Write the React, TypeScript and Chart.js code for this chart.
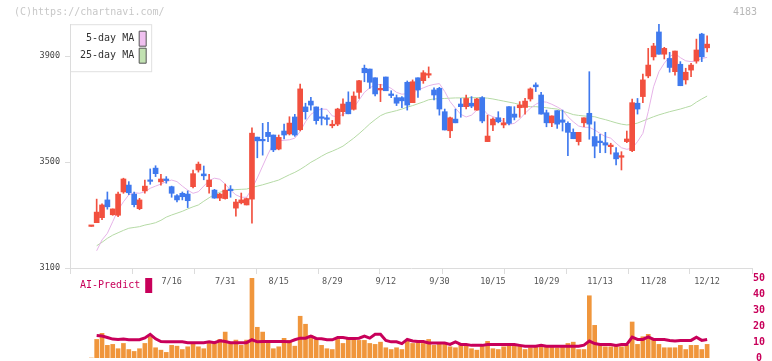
import React, { useEffect, useRef } from "react";
import { Chart, registerables } from "chart.js";

Chart.register(...registerables);

const MONO = '"DejaVu Sans Mono", "Liberation Mono", monospace';

// ---- data ----
const opens = [3257,3271,3290,3357,3301,3299,3387,3413,3379,3324,3391,3432,3477,3425,3436,3407,3373,3382,3379,3407,3470,3455,3407,3394,3364,3362,3394,3326,3346,3338,3360,3594,3583,3612,3602,3549,3617,3606,3670,3622,3708,3730,3708,3670,3667,3637,3643,3690,3726,3699,3763,3854,3851,3818,3772,3821,3757,3743,3743,3801,3724,3818,3807,3828,3772,3778,3690,3618,3662,3719,3709,3722,3696,3743,3577,3640,3667,3640,3709,3681,3705,3706,3738,3791,3753,3686,3648,3694,3659,3646,3612,3577,3648,3684,3596,3579,3573,3558,3535,3518,3577,3543,3722,3747,3825,3897,3991,3907,3891,3841,3869,3810,3847,3881,3983,3931];
const highs = [3257,3360,3342,3387,3323,3387,3439,3426,3387,3363,3432,3474,3486,3454,3445,3409,3377,3387,3391,3470,3500,3485,3454,3397,3382,3417,3411,3359,3383,3364,3629,3594,3646,3650,3602,3602,3643,3671,3680,3794,3722,3744,3708,3703,3677,3657,3703,3739,3765,3765,3808,3866,3851,3818,3793,3821,3769,3753,3747,3806,3810,3818,3845,3859,3780,3782,3700,3670,3700,3740,3753,3747,3740,3747,3677,3667,3690,3665,3709,3709,3728,3740,3780,3799,3763,3696,3674,3694,3696,3652,3625,3612,3667,3841,3652,3605,3612,3571,3555,3539,3617,3738,3740,3832,3929,3948,4021,3933,3914,3919,3879,3854,3873,3964,3986,3976];
const lows = [3257,3271,3282,3322,3299,3294,3382,3377,3331,3320,3382,3416,3445,3413,3420,3367,3349,3357,3328,3402,3462,3433,3382,3363,3354,3360,3367,3296,3342,3338,3269,3516,3526,3577,3539,3546,3587,3602,3597,3617,3662,3696,3643,3640,3640,3629,3637,3674,3682,3696,3740,3803,3778,3750,3728,3769,3743,3713,3705,3696,3724,3744,3797,3818,3734,3677,3621,3592,3648,3669,3700,3705,3696,3648,3577,3618,3648,3629,3640,3659,3669,3681,3730,3766,3681,3633,3633,3627,3617,3524,3588,3564,3633,3586,3516,3535,3535,3530,3489,3470,3573,3539,3681,3724,3818,3885,3907,3889,3839,3828,3788,3794,3822,3873,3879,3916];
const closes = [3257,3311,3338,3331,3323,3379,3436,3384,3339,3357,3409,3427,3456,3436,3430,3382,3357,3369,3354,3456,3492,3448,3432,3364,3379,3394,3392,3349,3357,3362,3609,3580,3580,3596,3546,3593,3602,3647,3602,3776,3690,3715,3656,3665,3661,3641,3700,3719,3682,3749,3807,3837,3801,3757,3778,3769,3751,3722,3731,3715,3803,3772,3837,3832,3753,3700,3621,3667,3648,3709,3740,3711,3738,3655,3598,3662,3652,3648,3646,3669,3715,3730,3776,3784,3681,3648,3674,3643,3650,3612,3588,3612,3667,3643,3560,3573,3564,3564,3512,3524,3587,3724,3700,3810,3866,3938,3907,3929,3857,3919,3788,3839,3866,3923,3897,3945];
const ma5 = [null,3165,3206,3231,3275,3319,3350,3376,3384,3382,3388,3401,3409,3417,3426,3432,3426,3409,3394,3382,3388,3409,3430,3439,3435,3417,3394,3376,3367,3367,3400,3440,3485,3530,3570,3580,3582,3584,3590,3615,3652,3680,3693,3700,3699,3674,3671,3680,3693,3705,3734,3763,3780,3791,3793,3788,3778,3763,3756,3758,3763,3772,3780,3788,3793,3796,3766,3728,3703,3680,3670,3677,3696,3703,3680,3671,3665,3652,3642,3646,3662,3684,3703,3718,3728,3726,3718,3708,3696,3671,3652,3636,3631,3631,3621,3608,3596,3590,3571,3554,3548,3552,3577,3608,3690,3784,3841,3873,3898,3910,3894,3882,3879,3882,3891,3895];
const ma25 = [null,3184,3197,3212,3224,3233,3242,3250,3253,3256,3262,3266,3271,3280,3292,3300,3307,3314,3323,3331,3338,3352,3365,3378,3386,3391,3394,3396,3397,3398,3404,3409,3414,3420,3426,3432,3442,3452,3461,3472,3485,3499,3510,3522,3533,3541,3550,3560,3575,3590,3607,3625,3644,3660,3675,3684,3689,3694,3700,3707,3713,3720,3727,3735,3738,3739,3740,3741,3742,3742,3743,3743,3743,3743,3741,3738,3734,3730,3726,3722,3717,3711,3709,3709,3707,3705,3702,3700,3692,3686,3679,3676,3674,3672,3671,3665,3660,3654,3648,3643,3640,3642,3647,3655,3663,3671,3678,3684,3690,3695,3700,3706,3712,3726,3738,3749];
const volume = [0,11.6,15.4,7.9,8.5,5.8,9.1,5.3,4.1,5.8,9.1,13.3,6.4,4.9,3.5,7.9,7.4,5.3,7.0,9.6,7.0,5.8,9.9,9.1,11.6,16.2,9.1,11.2,7.9,11.2,50.0,19.2,16.2,9.6,5.8,7.0,12.3,11.0,7.4,26.1,21.1,14.2,11.6,7.9,5.8,5.3,11.6,9.1,12.1,11.6,11.0,11.0,9.1,8.5,9.9,6.4,5.3,6.4,5.3,11.0,9.1,9.6,9.1,11.6,7.9,9.1,9.1,7.0,6.4,8.5,7.9,5.8,4.9,7.9,10.4,5.8,5.3,7.0,7.9,7.9,7.9,5.3,6.4,7.0,7.9,7.0,7.0,6.4,7.0,9.1,9.9,5.3,5.3,38.9,20.4,7.9,7.0,7.0,7.9,7.0,7.9,22.5,8.5,13.3,14.8,11.6,8.5,6.4,6.4,6.4,7.9,5.3,7.9,7.9,5.3,8.5];
const aiPredict = [null,14.0,13.7,12.8,11.8,11.6,11.8,11.4,11.4,11.4,12.5,14.8,12.0,10.3,10.1,10.1,10.1,10.1,9.6,9.6,9.6,9.6,10.1,9.6,10.8,10.3,9.6,9.6,9.6,9.6,11.4,10.1,10.3,10.3,10.3,10.3,10.3,10.1,11.4,12.4,12.4,13.7,12.2,12.0,11.4,11.4,12.8,12.8,12.2,12.2,12.4,13.7,12.4,14.8,14.8,11.0,10.1,10.1,9.0,11.6,10.6,10.3,10.3,9.4,9.4,9.4,9.4,8.5,10.1,8.5,8.5,7.9,7.9,7.9,8.5,8.5,8.5,8.5,8.5,8.5,7.9,7.3,7.3,7.3,7.9,7.3,7.3,7.3,7.3,7.3,7.3,7.3,8.0,10.6,9.0,8.5,8.5,8.5,7.9,8.5,8.5,13.0,11.6,11.6,13.2,11.6,11.6,11.6,11.0,10.6,11.0,11.0,11.0,13.0,11.0,11.6];

const dateLabels = ["7/16","7/31","8/15","8/29","9/12","9/30","10/15","10/29","11/13","11/28","12/12"];
const dateLabelIndex = [15,25,35,45,55,65,75,85,95,105,115];
const priceTicks = [3100,3500,3900];
const aiTicks = [0,10,20,30,40,50];
const PRICE_MIN = 3100;
const COPYRIGHT = "(C)https://chartnavi.com/";
const CODE = "4183";

// ---- styling ----
const X_MIN = -3.98;
const X_MAX = 123.38;
const GRID_DIVS = 11;
const UP = "#f2503f";
const DOWN = "#3f79ee";
const AXIS = "#dcdcdc";
const AI_COLOR = "#c8005a";

const labelMap = new Map<number, string>();
dateLabelIndex.forEach((v, i) => labelMap.set(v, dateLabels[i]));
const gridTicks = Array.from({ length: GRID_DIVS + 1 }, (_, k) => X_MIN + (k * (X_MAX - X_MIN)) / GRID_DIVS);

const watermark = {
  id: "watermark",
  afterDraw(chart: any) {
    const ctx = chart.ctx;
    ctx.save();
    ctx.font = `10px ${MONO}`;
    ctx.textBaseline = "middle";
    ctx.textAlign = "left";
    ctx.fillStyle = "#c8c8c8";
    ctx.fillText(COPYRIGHT, 14, 12);
    ctx.textAlign = "right";
    ctx.fillStyle = "#b8b8b8";
    ctx.fillText(CODE, 757, 12);
    ctx.restore();
  },
};

const legendFrame = {
  id: "legendFrame",
  beforeDraw(chart: any) {
    const lg = chart.legend;
    if (!lg || !lg.legendHitBoxes || !lg.legendHitBoxes.length) return;
    const hb = lg.legendHitBoxes;
    const left = chart.chartArea.left;
    const topY = Math.min(...hb.map((h: any) => h.top)) - 7;
    const right = Math.max(...hb.map((h: any) => h.left + h.width)) + 5;
    const bottom = Math.max(...hb.map((h: any) => h.top + h.height)) + 8;
    const ctx = chart.ctx;
    ctx.save();
    ctx.fillStyle = "#ffffff";
    ctx.fillRect(left, topY, right - left, bottom - topY);
    ctx.strokeStyle = "#e0e0e0";
    ctx.lineWidth = 1;
    ctx.strokeRect(left + 0.5, topY + 0.5, right - left, bottom - topY);
    ctx.restore();
  },
};

function sharedX(display: boolean): any {
  const axis: any = {
    type: "linear",
    min: X_MIN,
    max: X_MAX,
    offset: false,
    display,
    afterBuildTicks: (scale: any) => {
      const vals = [...gridTicks, ...dateLabelIndex].sort((a, b) => a - b);
      scale.ticks = vals.map((v) => ({ value: v }));
    },
    grid: {
      display: true,
      offset: false,
      drawOnChartArea: false,
      drawTicks: true,
      tickLength: 6,
      tickWidth: 1,
      tickColor: (ctx: any) => (labelMap.has(ctx.tick?.value) ? "rgba(0,0,0,0)" : AXIS),
    },
    border: { display: true, color: AXIS, width: 1 },
    ticks: {
      autoSkip: false,
      maxRotation: 0,
      minRotation: 0,
      padding: 3,
      color: "#555",
      font: { family: MONO, size: 8.5 },
      callback: (v: any) => labelMap.get(v) ?? "",
    },
  };
  if (display) {
    axis.afterFit = (scale: any) => {
      scale.height = 32;
    };
  }
  return axis;
}

export default function App() {
  const topRef = useRef<HTMLCanvasElement>(null);
  const botRef = useRef<HTMLCanvasElement>(null);

  useEffect(() => {
    const colors = closes.map((c, i) => (c >= opens[i] ? UP : DOWN));
    const priceMax = Math.max(...highs);

    const top = new Chart(topRef.current as HTMLCanvasElement, {
      type: "bar",
      data: {
        datasets: [
          {
            type: "bar",
            label: "body",
            data: opens.map((o, i) => ({ x: i, y: [o, closes[i]] })) as any,
            backgroundColor: colors,
            barThickness: 5,
            minBarLength: 1.5,
            grouped: false,
            borderWidth: 0,
            order: 1,
          } as any,
          {
            type: "bar",
            label: "wick",
            data: lows.map((l, i) => ({ x: i, y: [l, highs[i]] })) as any,
            backgroundColor: colors,
            barThickness: 1,
            grouped: false,
            borderWidth: 0,
            order: 2,
          } as any,
          {
            type: "line",
            label: "5-day MA",
            data: ma5.map((v, i) => ({ x: i, y: v })) as any,
            borderColor: "#e6b3e8",
            backgroundColor: "#f0c0f0",
            borderWidth: 1,
            pointRadius: 0,
            tension: 0,
            order: 3,
          } as any,
          {
            type: "line",
            label: "25-day MA",
            data: ma25.map((v, i) => ({ x: i, y: v })) as any,
            borderColor: "#b5daa5",
            backgroundColor: "#c2e2b2",
            borderWidth: 1,
            pointRadius: 0,
            tension: 0,
            order: 4,
          } as any,
        ],
      },
      options: {
        responsive: false,
        animation: false,
        events: [],
        layout: { padding: { top: 24, right: 20, left: 0, bottom: 0 } },
        scales: {
          x: sharedX(true),
          y: {
            type: "linear",
            min: PRICE_MIN,
            max: priceMax,
            afterBuildTicks: (scale: any) => {
              scale.ticks = priceTicks.map((v) => ({ value: v }));
            },
            afterFit: (scale: any) => {
              scale.width = 70;
            },
            grid: { drawOnChartArea: false, tickLength: 5, tickColor: AXIS },
            border: { display: true, color: AXIS, width: 1 },
            ticks: {
              padding: 5,
              color: "#444",
              font: { family: MONO, size: 8.5 },
              callback: (v: any) => String(v),
            },
          },
        },
        plugins: {
          tooltip: { enabled: false },
          title: { display: false },
          legend: {
            position: "chartArea" as any,
            align: "start",
            rtl: true,
            title: { display: true, text: "", font: { size: 1 }, padding: { top: 0, bottom: 28 } },
            labels: {
              font: { family: MONO, size: 10 },
              color: "#333",
              boxWidth: 7,
              boxHeight: 15,
              padding: 2,
              generateLabels: (chart: any) =>
                chart.data.datasets
                  .map((ds: any, i: number) => ({ ds, i }))
                  .filter(({ ds }: any) => ds.type === "line")
                  .map(({ ds, i }: any) => ({
                    text: ds.label,
                    fillStyle: ds.backgroundColor,
                    strokeStyle: "#555",
                    lineWidth: 1,
                    hidden: false,
                    datasetIndex: i,
                    fontColor: "#333",
                  })),
            },
          },
        },
      },
      plugins: [legendFrame, watermark],
    } as any);

    const bot = new Chart(botRef.current as HTMLCanvasElement, {
      type: "bar",
      data: {
        datasets: [
          {
            type: "line",
            label: "AI-Predict",
            data: aiPredict.map((v, i) => ({ x: i, y: v })) as any,
            borderColor: AI_COLOR,
            backgroundColor: AI_COLOR,
            borderWidth: 3,
            pointRadius: 0,
            tension: 0,
            order: 0,
          } as any,
          {
            type: "bar",
            label: "Volume",
            data: volume.map((v, i) => ({ x: i, y: v })) as any,
            backgroundColor: "#f0963c",
            barThickness: 4,
            grouped: false,
            borderWidth: 0,
            order: 1,
          } as any,
        ],
      },
      options: {
        responsive: false,
        animation: false,
        events: [],
        layout: { padding: { top: 10, right: 3, left: 70, bottom: 10 } },
        scales: {
          x: sharedX(false),
          y: {
            type: "linear",
            position: "right",
            min: 0,
            max: 50,
            afterBuildTicks: (scale: any) => {
              scale.ticks = aiTicks.map((v) => ({ value: v }));
            },
            afterFit: (scale: any) => {
              scale.width = 17;
            },
            grid: { display: false, drawTicks: false },
            border: { display: false },
            ticks: {
              autoSkip: false,
              padding: 1,
              crossAlign: "center",
              color: AI_COLOR,
              font: { family: MONO, size: 10, weight: "bold" },
              callback: (v: any) => String(v),
            },
          },
        },
        plugins: {
          tooltip: { enabled: false },
          legend: {
            position: "chartArea" as any,
            align: "start",
            rtl: true,
            title: { display: true, text: "", font: { size: 1 }, padding: { top: 0, bottom: 8.8 } },
            labels: {
              font: { family: MONO, size: 10 },
              color: AI_COLOR,
              boxWidth: 7,
              boxHeight: 15,
              padding: 0,
              generateLabels: (chart: any) =>
                chart.data.datasets
                  .map((ds: any, i: number) => ({ ds, i }))
                  .filter(({ ds }: any) => ds.type === "line")
                  .map(({ ds, i }: any) => ({
                    text: ds.label,
                    fillStyle: AI_COLOR,
                    strokeStyle: AI_COLOR,
                    lineWidth: 0,
                    hidden: false,
                    datasetIndex: i,
                    fontColor: AI_COLOR,
                  })),
            },
          },
        },
      },
    } as any);

    return () => {
      top.destroy();
      bot.destroy();
    };
  }, []);

  return (
    <div
      style={{
        position: "fixed",
        left: 0,
        top: 0,
        width: 772,
        height: 361,
        overflow: "hidden",
        background: "#ffffff",
      }}
    >
      <canvas ref={topRef} width={772} height={300} style={{ position: "absolute", left: 0, top: 0 }} />
      <canvas ref={botRef} width={772} height={100} style={{ position: "absolute", left: 0, top: 268 }} />
    </div>
  );
}
